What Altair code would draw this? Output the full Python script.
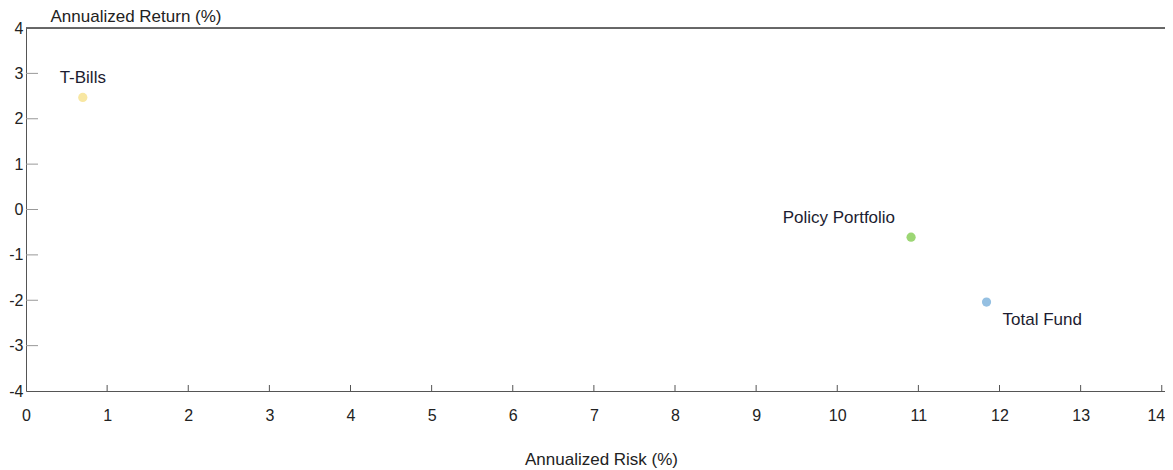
import altair as alt
import pandas as pd

names = ["T-Bills", "Policy Portfolio", "Total Fund"]
risk = [0.70, 10.91, 11.84]
ret = [2.47, -0.61, -2.04]
colors = ["#f8e7a2", "#9cd674", "#95c0e2"]
x_ticks = list(range(1, 15))
y_ticks = [-3, -2, -1, 0, 1, 2, 3]

W, H = 1139, 363
FONT = "Liberation Sans"

df = pd.DataFrame({"name": names, "risk": risk, "ret": ret})
xt = pd.DataFrame({"risk": x_ticks})
yt = pd.DataFrame({"ret": y_ticks})

xscale = alt.Scale(domain=[0, 14.04], nice=False, zero=False)
yscale = alt.Scale(domain=[-4, 4], nice=False, zero=False)

points = alt.Chart(df).mark_circle(size=85, opacity=1).encode(
    x=alt.X("risk:Q", scale=xscale,
            axis=alt.Axis(values=list(range(0, 15)), labelExpr="toString(datum.value)",
                          ticks=False, grid=False,
                          domainColor="#555555", labelPadding=16,
                          labelFontSize=16, labelColor="#222222", labelFont=FONT,
                          labelFlush=False, labelOverlap=False,
                          labelAlign=alt.expr("datum.value >= 14 ? 'right' : 'center'"),
                          labelOffset=alt.expr("datum.value >= 14 ? 3 : 0"),
                          title="Annualized Risk (%)", titleFont=FONT, titleFontSize=17,
                          titleFontWeight="normal", titleColor="#222222",
                          titleBaseline="alphabetic", titleY=73, titleX=575)),
    y=alt.Y("ret:Q", scale=yscale,
            axis=alt.Axis(values=list(range(-4, 5)), labelExpr="toString(datum.value)",
                          ticks=False, grid=False,
                          domainColor="#555555", labelPadding=3,
                          labelFontSize=16, labelColor="#222222", labelFont=FONT,
                          labelBaseline="middle", labelFlush=False, labelOverlap=False,
                          title="Annualized Return (%)", titleFont=FONT, titleFontSize=17,
                          titleFontWeight="normal", titleColor="#222222",
                          titleAngle=0, titleAlign="left", titleBaseline="alphabetic",
                          titleX=24, titleY=-7)),
    color=alt.Color("name:N", scale=alt.Scale(domain=names, range=colors), legend=None),
)

def label(name, align, dx, dy):
    return alt.Chart(df).transform_filter(alt.datum.name == name).mark_text(
        align=align, dx=dx, dy=dy, fontSize=17, font=FONT, color="#1c1c30", baseline="middle"
    ).encode(
        x=alt.X("risk:Q", scale=xscale),
        y=alt.Y("ret:Q", scale=yscale),
        text="name:N",
    )

lab1 = label("T-Bills", "center", 0, -19)
lab2 = label("Policy Portfolio", "right", -16, -19)
lab3 = label("Total Fund", "left", 16, 18)

xtick_layer = alt.Chart(xt).mark_rule(color="#555555", strokeWidth=1).encode(
    x=alt.X("risk:Q", scale=xscale),
    y=alt.value(H),
    y2=alt.value(H - 6),
)
ytick_layer = alt.Chart(yt).mark_rule(color="#999999", strokeWidth=1).encode(
    y=alt.Y("ret:Q", scale=yscale),
    x=alt.value(0),
    x2=alt.value(12),
)
top_line = alt.Chart(df).mark_rule(color="#555555", strokeWidth=1).encode(
    x=alt.value(0), x2=alt.value(W), y=alt.value(0)
)

chart = alt.layer(points, xtick_layer, ytick_layer, top_line, lab1, lab2, lab3).properties(
    width=W, height=H,
    padding={"left": 18, "top": 20, "right": 0, "bottom": 79},
    autosize=alt.AutoSizeParams(type="none"),
).configure_view(stroke=None).configure(background="white")

chart.save("out.html", embed_options={"renderer": "svg", "actions": False})
